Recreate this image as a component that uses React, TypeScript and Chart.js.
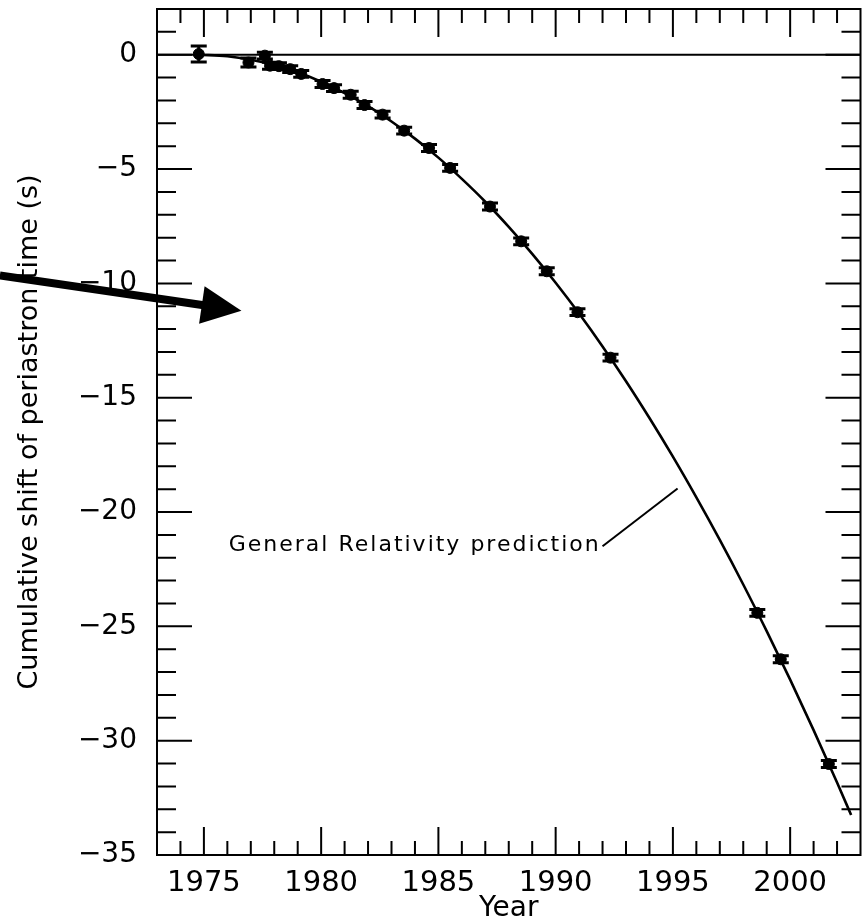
import { useEffect, useRef } from 'react';
import { Chart, registerables } from 'chart.js';

Chart.register(...registerables);

// Timing measurements of the periastron shift (year, seconds, 1-sigma error)
const measuredYears = [
  1974.78, 1976.9, 1977.6, 1977.82, 1978.2, 1978.68, 1979.15, 1980.06, 1980.55,
  1981.26, 1981.85, 1982.62, 1983.54, 1984.6, 1985.5, 1987.2, 1988.53, 1989.62,
  1990.93, 1992.34, 1998.6, 1999.6, 2001.65,
];
const measuredShift = [
  0.03, -0.34, -0.04, -0.48, -0.5, -0.63, -0.84, -1.28, -1.46,
  -1.75, -2.2, -2.62, -3.32, -4.08, -4.95, -6.64, -8.16, -9.47,
  -11.26, -13.25, -24.41, -26.44, -31.02,
];
const measuredErr = [
  0.35, 0.2, 0.15, 0.15, 0.15, 0.15, 0.15, 0.15, 0.15,
  0.15, 0.15, 0.15, 0.15, 0.15, 0.15, 0.15, 0.15, 0.15,
  0.15, 0.15, 0.15, 0.15, 0.15,
];

// General Relativity prediction curve
const grYears = [
  1974.8, 1976, 1977, 1978, 1979, 1980, 1981, 1982, 1983, 1984, 1985, 1986,
  1987, 1988, 1989, 1990, 1991, 1992, 1993, 1994, 1995, 1996, 1997, 1998,
  1999, 2000, 2001, 2002, 2002.6,
];
const grShift = [
  0, -0.07, -0.22, -0.45, -0.77, -1.18, -1.68, -2.25, -2.92, -3.67, -4.5, -5.43,
  -6.43, -7.53, -8.71, -9.97, -11.32, -12.76, -14.28, -15.89, -17.58, -19.36, -21.22, -23.17,
  -25.21, -27.33, -29.54, -31.83, -33.25,
];

// Axes
const xRange = [1973, 2003];
const yRange = [-35, 2];
const xTickYears = [1975, 1980, 1985, 1990, 1995, 2000];
const yTickValues = [-35, -30, -25, -20, -15, -10, -5, 0];

// Annotations (data coordinates)
const grLabel = 'General Relativity prediction';
const grLabelAt = [1976.06, -21.45];
const grLeaderFrom = [1992.0, -21.5];
const grLeaderTo = [1995.2, -18.97];
const arrowFrom = [1966.3, -9.65];
const arrowTo = [1976.6, -11.2];

const FONT = '"DejaVu Sans", "Liberation Sans", sans-serif';

const framePlugin = {
  id: 'periastronFrame',
  beforeDatasetsDraw(chart: any) {
    const { ctx, chartArea: a, scales } = chart;
    const y0 = scales.y.getPixelForValue(0);
    ctx.save();
    ctx.strokeStyle = '#000';
    ctx.lineWidth = 2;
    ctx.beginPath();
    ctx.moveTo(a.left, y0);
    ctx.lineTo(a.right, y0);
    ctx.stroke();
    ctx.restore();
  },
  afterDatasetsDraw(chart: any) {
    const { ctx, scales } = chart;
    const { x, y } = scales;
    ctx.save();
    ctx.strokeStyle = '#000';
    ctx.lineWidth = 3;
    measuredYears.forEach((yr, i) => {
      const px = x.getPixelForValue(yr);
      const top = y.getPixelForValue(measuredShift[i] + measuredErr[i]);
      const bot = y.getPixelForValue(measuredShift[i] - measuredErr[i]);
      ctx.beginPath();
      ctx.moveTo(px, top);
      ctx.lineTo(px, bot);
      ctx.moveTo(px - 8, top);
      ctx.lineTo(px + 8, top);
      ctx.moveTo(px - 8, bot);
      ctx.lineTo(px + 8, bot);
      ctx.stroke();
    });
    ctx.restore();
  },
  afterDraw(chart: any) {
    const { ctx, chartArea: a, scales } = chart;
    const { x, y } = scales;
    ctx.save();
    ctx.strokeStyle = '#000';
    ctx.fillStyle = '#000';

    // inward ticks on all four sides
    ctx.lineWidth = 2;
    ctx.beginPath();
    for (let yr = Math.ceil(xRange[0]) + 1; yr < xRange[1]; yr++) {
      const px = x.getPixelForValue(yr);
      const len = yr % 5 === 0 ? 28 : 14;
      ctx.moveTo(px, a.bottom);
      ctx.lineTo(px, a.bottom - len);
      ctx.moveTo(px, a.top);
      ctx.lineTo(px, a.top + len);
    }
    for (let v = yRange[0] + 1; v < yRange[1]; v++) {
      const py = y.getPixelForValue(v);
      const len = v % 5 === 0 ? 35 : 19;
      ctx.moveTo(a.left, py);
      ctx.lineTo(a.left + len, py);
      ctx.moveTo(a.right, py);
      ctx.lineTo(a.right - len, py);
    }
    ctx.stroke();

    // frame
    ctx.lineWidth = 2;
    ctx.strokeRect(a.left, a.top, a.right - a.left, a.bottom - a.top);

    // prediction label with leader line
    ctx.font = `22px ${FONT}`;
    (ctx as any).letterSpacing = '2px';
    ctx.textAlign = 'left';
    ctx.textBaseline = 'middle';
    ctx.fillText(grLabel, x.getPixelForValue(grLabelAt[0]), y.getPixelForValue(grLabelAt[1]));
    (ctx as any).letterSpacing = '0px';
    ctx.lineWidth = 2;
    ctx.beginPath();
    ctx.moveTo(x.getPixelForValue(grLeaderFrom[0]), y.getPixelForValue(grLeaderFrom[1]));
    ctx.lineTo(x.getPixelForValue(grLeaderTo[0]), y.getPixelForValue(grLeaderTo[1]));
    ctx.stroke();

    // heavy pointer arrow
    const x0 = x.getPixelForValue(arrowFrom[0]);
    const y0 = y.getPixelForValue(arrowFrom[1]);
    const x1 = x.getPixelForValue(arrowTo[0]);
    const y1 = y.getPixelForValue(arrowTo[1]);
    const dx = x1 - x0;
    const dy = y1 - y0;
    const d = Math.hypot(dx, dy);
    const ux = dx / d;
    const uy = dy / d;
    const headLen = 40;
    const halfW = 19;
    const bx = x1 - ux * headLen;
    const by = y1 - uy * headLen;
    ctx.lineWidth = 8;
    ctx.beginPath();
    ctx.moveTo(x0, y0);
    ctx.lineTo(bx + ux * 2, by + uy * 2);
    ctx.stroke();
    ctx.beginPath();
    ctx.moveTo(x1, y1);
    ctx.lineTo(bx - uy * halfW, by + ux * halfW);
    ctx.lineTo(bx + uy * halfW, by - ux * halfW);
    ctx.closePath();
    ctx.fill();
    ctx.restore();
  },
};

export default function App() {
  const ref = useRef<HTMLCanvasElement>(null);

  useEffect(() => {
    const canvas = ref.current;
    if (!canvas) return;
    const chart = new Chart(canvas, {
      type: 'line',
      data: {
        datasets: [
          {
            label: 'GR prediction',
            data: grYears.map((yr, i) => ({ x: yr, y: grShift[i] })),
            borderColor: '#000',
            borderWidth: 2.6,
            pointRadius: 0,
            cubicInterpolationMode: 'monotone',
            fill: false,
          },
          {
            label: 'Measured',
            data: measuredYears.map((yr, i) => ({ x: yr, y: measuredShift[i] })),
            showLine: false,
            pointStyle: 'circle',
            pointRadius: 5.5,
            pointBackgroundColor: '#000',
            pointBorderColor: '#000',
            pointBorderWidth: 1,
          },
        ],
      },
      options: {
        responsive: false,
        animation: false,
        devicePixelRatio: 1,
        layout: { padding: { top: 9, right: 1, left: 0, bottom: 0 } },
        plugins: {
          legend: { display: false },
          tooltip: { enabled: false },
        },
        scales: {
          x: {
            type: 'linear',
            min: xRange[0],
            max: xRange[1],
            grid: { display: false, drawTicks: false },
            border: { display: false },
            afterBuildTicks: (axis: any) => {
              axis.ticks = xTickYears.map((v) => ({ value: v }));
            },
            afterFit: (axis: any) => {
              axis.height = 68;
              axis.paddingLeft = 0;
              axis.paddingRight = 0;
              axis.paddingTop = 0;
              axis.paddingBottom = 0;
            },
            ticks: {
              autoSkip: false,
              maxRotation: 0,
              padding: 11,
              color: '#000',
              font: { family: FONT, size: 29 },
              callback: (v: any) => String(v),
            },
            title: {
              display: true,
              text: 'Year',
              color: '#000',
              font: { family: FONT, size: 28, lineHeight: 1 },
              padding: { top: 0, bottom: 0 },
            },
          },
          y: {
            type: 'linear',
            min: yRange[0],
            max: yRange[1],
            grid: { display: false, drawTicks: false },
            border: { display: false },
            afterBuildTicks: (axis: any) => {
              axis.ticks = yTickValues.map((v) => ({ value: v }));
            },
            afterFit: (axis: any) => {
              axis.width = 157;
              axis.paddingLeft = 0;
              axis.paddingRight = 0;
              axis.paddingTop = 0;
              axis.paddingBottom = 0;
            },
            ticks: {
              autoSkip: false,
              padding: 20,
              color: '#000',
              font: { family: FONT, size: 28 },
              callback: (v: any) => (Number(v) === 0 ? '0' : '\u2212' + Math.abs(Number(v))),
            },
            title: {
              display: true,
              text: 'Cumulative shift of periastron time (s)',
              color: '#000',
              font: { family: FONT, size: 27, lineHeight: 1 },
              padding: { top: 16, bottom: 0 },
            },
          },
        },
      },
      plugins: [framePlugin],
    } as any);
    return () => chart.destroy();
  }, []);

  return (
    <div style={{ position: 'absolute', left: 0, top: 0, width: 867, height: 923, background: '#fff' }}>
      <canvas ref={ref} width={867} height={923} style={{ display: 'block', width: 867, height: 923 }} />
    </div>
  );
}
